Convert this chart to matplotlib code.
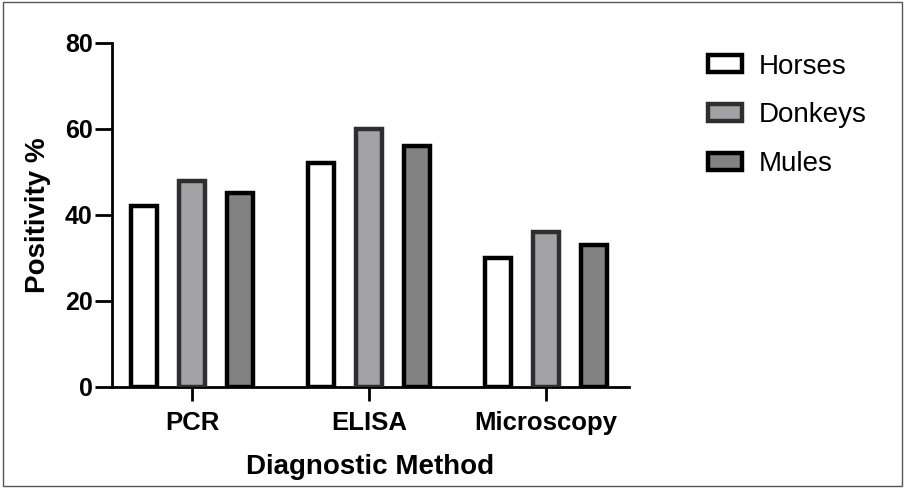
import numpy as np
import matplotlib
matplotlib.use("Agg")
import matplotlib.pyplot as plt
from matplotlib.patches import Rectangle, Patch

plt.rcParams["font.family"] = ["Liberation Sans", "DejaVu Sans"]

methods = ["PCR", "ELISA", "Microscopy"]
series = ["Horses", "Donkeys", "Mules"]
horses = [42, 52, 30]
donkeys = [48, 60, 36]
mules = [45, 56, 33]

fills = ["#ffffff", "#a2a2a6", "#828282"]
edges = ["#000000", "#2e2e2e", "#000000"]

fig = plt.figure(figsize=(9.05, 4.88), dpi=100)
ax = fig.add_axes([0.1238, 0.207, 0.5712, 0.705])

x = np.arange(len(methods))
offsets = [-0.271, 0.0, 0.271]
for vals, off, fc, ec, name in zip([horses, donkeys, mules], offsets, fills, edges, series):
    ax.bar(x + off, vals, width=0.15, color=fc, edgecolor=ec, linewidth=3.2, label=name, zorder=3)

ax.set_xlim(-0.452, 2.469)
ax.set_ylim(0, 80)
ax.set_yticks([0, 20, 40, 60, 80])
ax.set_xticks(x)
ax.set_xticklabels(methods)
for s in ["top", "right"]:
    ax.spines[s].set_visible(False)
for s in ["left", "bottom"]:
    ax.spines[s].set_linewidth(2)
ax.tick_params(axis="y", length=12, width=2, labelsize=18, pad=2)
ax.tick_params(axis="x", length=10, width=2, labelsize=18.5, pad=7)
for lab in ax.get_xticklabels() + ax.get_yticklabels():
    lab.set_fontweight("bold")
ax.set_ylabel("Positivity %", fontsize=20, fontweight="bold", labelpad=10)
ax.set_xlabel("Diagnostic Method", fontsize=20, fontweight="bold", labelpad=14)

handles = [Patch(facecolor=fc, edgecolor=ec, linewidth=3.2) for fc, ec in zip(fills, edges)]
fig.legend(handles, series, loc="upper left", bbox_to_anchor=(0.7695, 0.913),
           frameon=False, fontsize=20, handlelength=1.25, handleheight=0.55,
           handletextpad=0.6, labelspacing=0.82, borderaxespad=0)

fig.patches.append(Rectangle((0.003, 0.004), 0.994, 0.992, transform=fig.transFigure,
                             fill=False, edgecolor="#555555", linewidth=1))

fig.savefig("out.png", dpi=100)
